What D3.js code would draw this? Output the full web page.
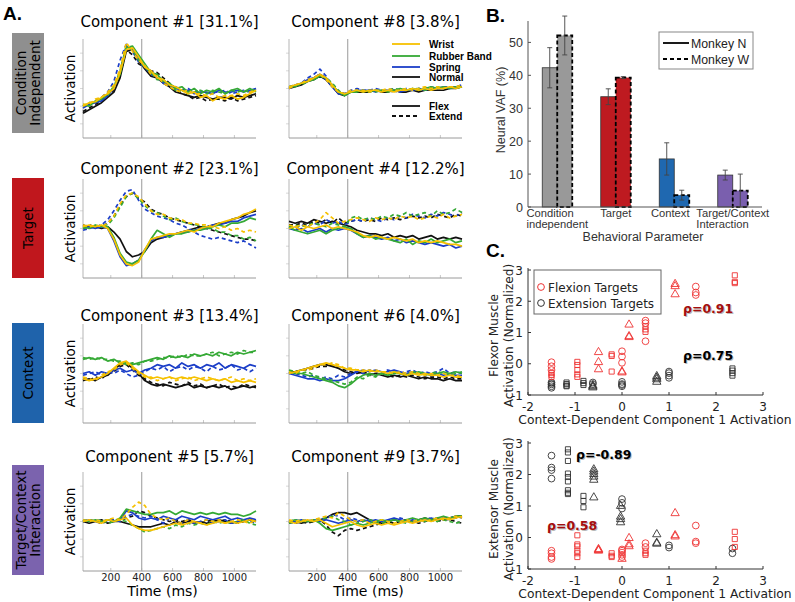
<!DOCTYPE html>
<html><head><meta charset="utf-8">
<script src="https://cdn.jsdelivr.net/npm/d3@7"></script>
<style>body{margin:0;background:#fff}svg{display:block}</style>
</head><body>
<svg id="c" width="795" height="602"></svg>
<script>
// ---------- Panel A data ----------
const timesMs = d3.range(20, 1141, 40);
const conditionNames = ["Wrist", "Rubber Band", "Spring", "Normal"];
const conditionColors = ["#f6c100", "#35a935", "#1b3ec8", "#111111"];
const directionNames = ["Flex", "Extend"];
// series order in each component: WristFlex, WristExt, RubberFlex, RubberExt, SpringFlex, SpringExt, NormalFlex, NormalExt
const comp1 = [
 [-1.0,-0.8,-0.75,-0.5,-0.3,0.0,0.9,2.2,2.3,1.8,1.2,1.0,0.6,0.5,0.2,0.1,-0.1,-0.3,-0.2,-0.5,-0.4,-0.7,-0.5,-0.6,-0.4,-0.6,-0.5,-0.3,-0.1],
 [-0.9,-0.9,-0.6,-0.5,-0.2,0.2,1.1,2.6,2.1,1.6,1.3,0.8,0.7,0.3,0.1,-0.1,-0.2,-0.1,-0.3,-0.3,-0.4,-0.3,-0.5,-0.4,-0.4,-0.3,-0.4,-0.2,-0.1],
 [-0.9,-1.0,-0.7,-0.6,-0.3,0.1,0.8,2.3,2.4,1.9,1.4,0.9,0.8,0.4,0.3,0.0,0.1,-0.2,0.0,-0.3,-0.1,-0.2,0.0,-0.3,-0.1,0.0,-0.2,0.0,-0.2],
 [-1.0,-0.8,-0.8,-0.5,-0.4,0.1,1.0,2.4,2.2,1.6,1.2,0.9,0.5,0.5,0.2,-0.1,-0.1,-0.3,-0.2,-0.1,-0.3,-0.1,-0.2,-0.3,-0.1,-0.2,-0.1,-0.2,0.0],
 [-1.1,-0.9,-0.8,-0.7,-0.4,0.0,0.9,2.4,2.2,1.7,1.2,0.9,0.6,0.4,0.2,0.0,-0.1,-0.1,-0.3,-0.2,-0.2,-0.3,-0.1,-0.2,-0.2,-0.1,-0.2,-0.1,0.0],
 [-1.0,-0.9,-0.7,-0.5,-0.2,0.4,1.6,2.5,2.1,1.5,1.2,0.8,0.6,0.3,0.2,0.1,-0.1,0.0,-0.2,-0.1,-0.3,-0.2,-0.2,-0.1,-0.3,-0.2,-0.1,-0.2,0.0],
 [-1.4,-1.2,-1.0,-0.8,-0.5,-0.2,0.6,2.1,2.2,1.6,1.1,0.7,0.6,0.3,0.1,-0.2,-0.3,-0.4,-0.5,-0.4,-0.5,-0.6,-0.5,-0.5,-0.6,-0.4,-0.5,-0.4,-0.3],
 [-1.3,-1.1,-0.9,-0.7,-0.4,-0.1,0.8,2.2,1.9,1.4,1.2,1.0,0.9,0.6,0.3,0.0,-0.3,-0.4,-0.6,-0.5,-0.7,-0.6,-0.6,-0.7,-0.5,-0.7,-0.6,-0.5,-0.4]];
const comp8 = [
 [0.1,0.2,0.3,0.4,0.6,0.8,0.6,0.2,-0.2,-0.3,-0.2,-0.1,-0.2,-0.1,-0.1,-0.2,-0.1,-0.2,-0.1,-0.1,0.0,-0.1,0.0,-0.1,0.0,0.0,0.1,0.0,0.1],
 [0.0,0.2,0.3,0.5,0.6,0.8,0.5,0.1,-0.2,-0.3,-0.1,-0.1,-0.1,-0.2,-0.1,-0.1,0.0,-0.1,-0.1,0.0,-0.1,0.0,0.1,0.0,0.1,0.0,0.1,0.1,0.2],
 [0.1,0.1,0.3,0.4,0.5,0.7,0.6,0.2,-0.2,-0.4,-0.2,-0.2,-0.1,-0.2,-0.1,-0.1,-0.2,-0.1,0.0,-0.1,0.0,-0.1,0.0,0.1,0.0,0.1,0.0,0.1,0.1],
 [0.1,0.2,0.2,0.4,0.6,0.7,0.6,0.3,-0.1,-0.4,-0.2,-0.1,-0.2,-0.1,-0.2,-0.1,-0.1,0.0,-0.1,-0.1,0.0,0.0,-0.1,0.0,0.1,0.0,0.1,0.0,0.1],
 [0.0,0.2,0.3,0.5,0.6,0.8,0.5,0.1,-0.3,-0.3,-0.2,-0.1,-0.1,-0.1,-0.2,-0.1,-0.1,-0.1,-0.2,-0.1,-0.1,0.0,-0.1,0.0,0.0,0.1,0.0,0.1,0.1],
 [0.1,0.2,0.3,0.6,0.8,1.1,0.7,0.2,-0.2,-0.3,-0.1,0.0,-0.1,-0.1,0.0,-0.1,-0.1,0.0,-0.1,0.0,-0.1,0.0,0.0,0.1,0.0,0.1,0.1,0.1,0.2],
 [0.0,0.1,0.2,0.4,0.5,0.7,0.5,0.1,-0.3,-0.4,-0.2,-0.2,-0.2,-0.2,-0.1,-0.2,-0.2,-0.1,-0.2,-0.2,-0.1,-0.2,-0.1,-0.1,-0.1,-0.1,0.0,0.0,0.1],
 [0.1,0.1,0.3,0.4,0.6,0.8,0.6,0.2,-0.2,-0.3,-0.2,-0.1,-0.2,-0.1,-0.1,-0.2,-0.1,-0.2,-0.1,-0.1,-0.1,-0.1,0.0,-0.1,0.0,0.0,0.0,0.1,0.1]];
const comp2 = [
 [0.1,0.2,0.1,0.2,0.0,-0.6,-1.5,-2.0,-2.1,-1.9,-1.2,-0.6,-0.5,-0.4,-0.3,-0.3,-0.2,-0.1,-0.2,0.0,0.1,0.1,0.3,0.4,0.5,0.6,0.8,0.9,1.1],
 [0.2,0.1,0.2,0.1,0.3,0.7,1.4,1.9,2.0,1.8,1.4,1.0,0.8,0.8,0.6,0.5,0.5,0.3,0.3,0.2,0.2,0.1,0.0,0.1,-0.1,0.0,-0.2,-0.1,-0.2],
 [0.1,0.0,0.2,0.1,0.1,-0.5,-1.4,-1.9,-2.0,-1.8,-1.3,-0.6,-0.1,-0.3,-0.5,-0.3,-0.3,-0.2,-0.1,-0.1,0.0,0.1,0.2,0.1,0.3,0.3,0.4,0.6,0.5],
 [0.0,0.1,0.1,0.2,0.2,0.6,1.2,1.8,2.0,1.7,1.3,1.0,0.9,0.7,0.5,0.6,0.4,0.3,0.2,0.2,0.0,0.0,-0.2,-0.2,-0.4,-0.4,-0.6,-0.5,-0.7],
 [0.0,0.1,0.0,0.1,0.0,-0.7,-1.6,-2.1,-2.0,-1.8,-1.2,-0.7,-0.5,-0.5,-0.4,-0.3,-0.2,-0.2,-0.1,0.0,0.0,0.2,0.2,0.3,0.4,0.4,0.6,0.7,0.8],
 [-0.1,0.0,0.1,0.2,0.5,1.0,1.6,2.1,2.2,1.6,1.1,0.9,0.7,0.6,0.5,0.3,0.2,0.0,-0.2,-0.4,-0.5,-0.6,-0.5,-0.6,-0.7,-0.8,-0.7,-0.9,-1.1],
 [0.2,0.1,0.1,0.0,0.1,-0.2,-0.6,-1.3,-1.6,-1.5,-1.3,-0.8,-0.6,-0.5,-0.4,-0.3,-0.2,-0.1,0.0,0.1,0.1,0.2,0.3,0.3,0.5,0.6,0.7,0.9,1.0],
 [0.1,0.2,0.1,0.1,0.3,0.7,1.3,1.8,2.0,1.7,1.5,1.1,0.9,0.8,0.6,0.5,0.4,0.3,0.2,0.1,0.0,-0.1,-0.2,-0.3,-0.4,-0.5,-0.6,-0.6,-0.7]];
const comp4 = [
 [0.0,0.1,-0.1,0.1,0.0,0.1,0.2,0.0,0.1,0.0,-0.1,-0.2,-0.4,-0.5,-0.4,-0.5,-0.6,-0.5,-0.6,-0.7,-0.6,-0.8,-0.7,-0.8,-0.7,-0.8,-0.9,-0.9,-1.0],
 [0.2,0.1,0.2,0.1,0.3,0.5,0.9,0.6,0.3,0.4,0.5,0.6,0.5,0.4,0.6,0.5,0.6,0.5,0.7,0.6,0.7,0.5,0.6,0.7,0.6,0.8,0.6,0.7,0.8],
 [0.1,-0.1,-0.2,-0.3,-0.2,-0.1,-0.3,-0.1,0.0,0.1,0.0,-0.3,-0.5,-0.4,-0.6,-0.5,-0.6,-0.7,-0.8,-0.6,-0.9,-0.7,-0.8,-0.6,-0.8,-0.7,-0.6,-0.8,-0.7],
 [0.1,0.2,0.1,0.2,0.3,0.2,0.1,0.3,0.2,0.1,0.6,0.7,0.5,0.6,0.5,0.7,0.6,0.8,0.7,0.9,0.7,0.8,0.9,0.7,1.0,0.8,0.9,1.1,0.9],
 [0.0,-0.1,0.0,-0.2,-0.1,0.0,-0.2,0.0,-0.1,0.0,-0.1,-0.3,-0.5,-0.4,-0.5,-0.6,-0.5,-0.7,-0.6,-0.8,-0.7,-0.8,-0.9,-0.8,-0.9,-1.0,-0.9,-1.1,-1.0],
 [0.1,0.0,0.2,0.1,0.3,0.2,0.5,0.3,0.4,0.2,0.4,0.5,0.4,0.6,0.5,0.4,0.6,0.5,0.7,0.6,0.8,0.7,0.6,0.8,0.7,0.9,0.8,0.7,0.9],
 [0.4,0.3,0.4,0.3,0.5,0.4,0.3,0.4,0.3,0.2,0.1,-0.1,-0.2,-0.3,-0.3,-0.4,-0.3,-0.5,-0.4,-0.5,-0.4,-0.6,-0.5,-0.4,-0.6,-0.5,-0.6,-0.5,-0.6],
 [0.2,0.2,0.3,0.2,0.4,0.3,0.5,0.3,0.6,0.3,0.4,0.5,0.4,0.5,0.4,0.6,0.5,0.6,0.5,0.6,0.7,0.6,0.7,0.6,0.8,0.7,0.6,0.8,0.7]];
const comp3 = [
 [-0.3,-0.4,-0.3,-0.2,0.0,0.3,0.6,0.7,0.4,0.1,-0.1,-0.3,-0.2,-0.3,-0.2,-0.3,-0.2,-0.3,-0.2,-0.3,-0.4,-0.3,-0.4,-0.3,-0.5,-0.4,-0.5,-0.4,-0.5],
 [-0.2,-0.3,-0.4,-0.1,0.1,0.2,0.5,0.6,0.3,0.0,-0.2,-0.2,-0.4,-0.3,-0.2,-0.4,-0.3,-0.2,-0.4,-0.3,-0.2,-0.3,-0.4,-0.3,-0.2,-0.4,-0.3,-0.4,-0.3],
 [0.8,0.9,0.8,0.9,0.7,0.8,0.6,0.6,0.5,0.6,0.7,0.8,0.9,0.8,1.0,0.9,1.0,0.9,1.1,1.0,1.1,1.0,1.2,1.1,1.0,1.2,1.1,1.2,1.3],
 [0.9,0.8,0.9,0.8,0.8,0.7,0.7,0.5,0.6,0.5,0.7,0.7,0.8,0.9,0.9,1.0,0.9,1.1,1.0,1.0,1.1,1.2,1.0,1.1,1.2,1.1,1.3,1.2,1.2],
 [0.0,0.1,-0.1,0.1,0.0,0.2,0.3,0.1,0.2,0.0,0.2,0.3,0.5,0.4,0.5,0.3,0.6,0.4,0.5,0.3,0.5,0.4,0.6,0.3,0.5,0.4,0.3,0.5,0.4],
 [-0.1,0.0,0.1,-0.1,0.1,0.0,0.2,0.0,-0.2,-0.1,0.1,0.3,0.2,0.4,0.1,0.3,0.4,0.2,0.4,0.3,0.1,0.4,0.2,0.3,0.5,0.2,0.3,0.1,0.3],
 [-0.4,-0.3,-0.4,-0.2,-0.1,0.2,0.5,0.6,0.3,0.0,-0.4,-0.6,-0.7,-0.6,-0.7,-0.8,-0.7,-0.6,-0.8,-0.7,-0.8,-0.7,-0.8,-0.7,-0.9,-0.8,-0.7,-0.8,-0.7],
 [-0.3,-0.4,-0.2,-0.3,0.0,0.1,0.4,0.5,0.2,-0.1,-0.3,-0.5,-0.6,-0.7,-0.5,-0.6,-0.7,-0.5,-0.7,-0.6,-0.8,-0.7,-0.6,-0.8,-0.7,-0.8,-0.6,-0.7,-0.8]];
const comp6 = [
 [0.0,0.1,0.2,0.3,0.4,0.5,0.6,0.5,0.4,0.3,0.2,0.2,0.1,0.2,0.1,0.1,0.0,0.1,0.0,-0.1,0.0,-0.1,0.0,-0.1,-0.1,-0.2,-0.1,-0.2,-0.2],
 [0.1,0.0,0.2,0.2,0.3,0.5,0.5,0.6,0.5,0.3,0.3,0.2,0.2,0.1,0.2,0.1,0.1,0.0,0.1,0.0,0.1,0.0,-0.1,0.0,-0.1,0.0,-0.1,-0.1,-0.2],
 [0.1,0.0,0.0,-0.1,-0.2,-0.3,-0.4,-0.5,-0.7,-0.8,-0.6,-0.3,-0.1,0.0,-0.1,0.0,-0.1,0.0,0.0,-0.1,0.0,0.1,0.0,-0.1,0.0,0.1,0.0,0.1,0.0],
 [0.2,0.1,0.0,0.1,-0.1,-0.2,-0.3,-0.4,-0.5,-0.6,-0.5,-0.2,-0.3,-0.1,-0.2,0.0,-0.1,0.1,0.0,-0.1,0.1,0.0,-0.1,0.0,0.1,0.0,-0.1,0.0,0.1],
 [0.0,-0.1,-0.2,-0.3,-0.3,-0.4,-0.3,-0.4,-0.4,-0.3,-0.1,0.1,0.2,0.1,0.2,0.1,0.1,0.2,0.1,0.0,0.1,0.0,0.0,-0.1,0.0,-0.1,0.0,-0.1,-0.1],
 [0.1,0.0,-0.1,-0.2,-0.1,-0.3,-0.2,-0.3,-0.1,-0.2,0.0,0.1,0.0,0.2,0.1,0.0,0.2,0.1,0.0,0.1,0.2,0.0,0.1,0.0,0.1,0.3,0.0,0.1,0.0],
 [0.1,0.1,0.2,0.3,0.4,0.5,0.5,0.4,0.3,0.1,0.0,0.1,0.0,-0.1,0.0,-0.1,-0.2,-0.1,-0.2,-0.1,-0.2,-0.3,-0.2,-0.3,-0.3,-0.4,-0.3,-0.4,-0.4],
 [0.0,0.1,0.2,0.2,0.3,0.4,0.4,0.5,0.3,0.2,0.1,0.0,0.1,0.0,-0.1,0.0,-0.1,-0.2,-0.1,-0.2,-0.1,-0.2,-0.3,-0.2,-0.2,-0.3,-0.2,-0.3,-0.3]];
const comp5 = [
 [0.0,0.1,0.0,-0.1,0.1,0.0,0.1,0.2,-0.2,-0.4,-0.5,-0.5,-0.4,-0.3,-0.2,-0.1,-0.2,-0.1,0.0,-0.1,-0.2,-0.1,0.0,-0.1,0.0,-0.1,0.0,0.1,0.0],
 [0.1,0.0,0.1,0.0,0.1,0.2,0.1,0.4,0.8,1.1,0.9,0.4,0.2,0.1,0.2,0.0,-0.1,0.1,0.0,-0.1,0.1,0.0,0.1,-0.1,0.0,0.1,0.0,-0.1,0.1],
 [0.1,0.0,0.1,0.0,0.1,0.0,0.2,0.7,0.6,0.5,0.4,0.4,0.5,0.5,0.6,0.4,0.6,0.5,0.4,0.5,0.4,0.5,0.4,0.5,0.4,0.4,0.3,0.4,0.6],
 [0.0,0.1,0.0,0.1,-0.1,0.0,0.1,0.0,-0.2,-0.4,-0.6,-0.5,-0.4,-0.3,-0.4,-0.2,-0.3,-0.1,-0.2,-0.1,-0.2,0.0,-0.1,0.0,-0.1,0.0,0.1,-0.1,-0.2],
 [0.0,0.1,0.0,0.0,0.1,0.0,0.1,0.6,0.5,0.2,0.1,0.2,0.1,0.3,0.2,0.1,0.3,0.2,0.1,0.3,0.2,0.1,0.2,0.3,0.1,0.2,0.1,0.2,0.1],
 [0.1,0.0,0.1,0.0,0.0,0.1,0.0,0.3,0.4,0.3,0.2,0.3,0.1,-0.1,0.2,0.0,-0.1,0.1,-0.1,0.0,0.1,-0.1,0.0,0.1,-0.1,0.0,0.1,0.0,-0.1],
 [0.0,-0.1,0.0,0.1,-0.1,0.0,0.0,-0.1,-0.2,-0.3,-0.3,-0.3,-0.2,-0.1,-0.2,0.0,-0.1,0.0,-0.1,0.0,-0.1,0.0,0.1,0.0,-0.1,0.0,0.0,0.1,0.0],
 [0.0,0.1,0.0,-0.1,0.0,0.1,0.0,0.2,0.3,0.6,0.5,0.3,0.2,0.1,0.0,0.1,0.0,0.1,0.0,-0.1,0.0,0.1,0.0,0.1,0.0,-0.1,0.0,0.1,0.0]];
const comp9 = [
 [0.0,-0.1,0.0,0.1,0.0,0.1,-0.1,-0.3,-0.2,-0.1,0.0,-0.2,-0.3,-0.2,-0.1,-0.2,-0.1,-0.2,-0.1,0.0,-0.1,0.0,0.1,0.0,0.1,0.2,0.1,0.2,0.3],
 [0.1,0.0,0.1,0.0,0.1,0.2,0.3,0.2,0.5,0.3,0.1,0.0,0.1,-0.1,0.0,0.1,0.0,-0.1,0.0,0.1,0.0,0.1,0.0,0.1,0.2,0.1,0.2,0.3,0.2],
 [0.0,0.1,0.0,0.0,0.1,-0.1,-0.4,-0.5,-0.4,-0.3,-0.2,-0.1,-0.2,-0.1,0.0,0.1,0.0,0.1,0.0,0.1,0.2,0.1,0.2,0.1,0.2,0.3,0.2,0.3,0.3],
 [-0.1,0.0,0.1,0.0,0.0,0.1,0.2,0.3,0.1,0.0,-0.2,-0.1,0.0,0.1,0.0,-0.1,0.0,0.1,0.0,-0.1,0.0,0.1,0.0,0.1,0.0,0.1,0.0,-0.1,0.0],
 [0.0,0.0,0.1,0.0,0.1,0.0,0.1,0.0,-0.1,0.0,0.1,0.0,0.1,0.0,0.1,0.0,0.1,0.2,0.1,0.0,0.1,0.0,0.1,0.2,0.1,0.2,0.2,0.3,0.2],
 [0.0,0.1,0.0,0.1,0.0,0.2,0.1,0.4,0.3,0.1,0.2,0.1,0.0,0.1,-0.1,0.1,0.0,0.1,0.2,0.1,0.0,0.1,0.1,0.2,0.1,0.2,0.1,0.2,0.3],
 [-0.1,0.0,-0.1,0.0,0.0,0.1,0.2,0.4,0.5,0.5,0.4,0.5,0.3,0.1,0.0,-0.1,0.0,0.1,0.0,0.1,0.0,0.1,0.2,0.1,0.2,0.1,0.2,0.3,0.3],
 [0.0,-0.1,0.0,-0.1,0.0,0.1,-0.2,-0.6,-0.8,-0.5,-0.4,-0.5,-0.4,-0.3,-0.2,-0.1,0.0,-0.1,0.0,0.1,0.0,-0.1,0.0,0.1,0.0,0.1,0.1,0.0,-0.1]];
const componentTitles = [["Component #1 [31.1%]","Component #8 [3.8%]"],["Component #2 [23.1%]","Component #4 [12.2%]"],
  ["Component #3 [13.4%]","Component #6 [4.0%]"],["Component #5 [5.7%]","Component #9 [3.7%]"]];
const rowLabels = [["Condition","Independent"],["Target"],["Context"],["Target/Context","Interaction"]];
const rowColors = ["#8f8f8f","#c0171d","#1f63ab","#7b63ae"];
const timeTicks = [200,400,600,800,1000];

// ---------- Panel B data ----------
const vafCategories = [["Condition","independent"],["Target"],["Context"],["Target/Context","Interaction"]];
const vafMonkeyN = [42.3, 33.5, 14.6, 9.7];
const vafMonkeyW = [52.1, 39.3, 3.6, 5.0];
const errMonkeyN = [6.1, 2.4, 4.9, 1.5];
const errMonkeyW = [5.9, 0.3, 1.5, 5.0];
const vafColors = ["#999999","#be1a20","#1f68b0","#7a5fae"];
const vafTicks = [0,10,20,30,40,50];

// ---------- Panel C data: [x, marker, [y values]] ----------
const flexorFlexion = [[-1.5,"o",[0.05,-0.08,-0.2]],[-1.5,"s",[-0.3,-0.36,-0.42]],[-0.95,"s",[0.06,-0.04,-0.2,-0.34,-0.42]],
 [-0.5,"t",[0.37,0.05,-0.18]],[-0.22,"s",[0.3,0.25,-0.25]],[0.0,"o",[0.4,0.23,0.03]],[0.0,"t",[-0.25,-0.28]],
 [0.15,"t",[1.25,0.88,0.85]],[0.5,"o",[1.38,1.3,0.72]],[0.5,"s",[1.2,1.1,1.02]],[1.13,"t",[2.55,2.48,2.22]],
 [1.57,"o",[2.47,2.28,2.2]],[2.4,"s",[2.83,2.62,2.58]]];
const flexorExtension = [[-1.5,"o",[-0.6,-0.66,-0.72,-0.77]],[-1.5,"s",[-0.63]],[-1.18,"s",[-0.6,-0.65,-0.7,-0.72]],
 [-0.82,"s",[-0.55,-0.62,-0.68]],[-0.62,"o",[-0.6,-0.65]],[-0.62,"t",[-0.7,-0.73,-0.76]],[0.0,"o",[-0.58,-0.65,-0.68,-0.72]],
 [0.74,"t",[-0.4,-0.45,-0.5,-0.58]],[1.0,"o",[-0.25,-0.3,-0.38,-0.45]],[2.35,"s",[-0.15,-0.22,-0.3,-0.38]]];
const extensorFlexion = [[-1.5,"o",[-0.42,-0.5,-0.62,-0.68]],[-0.95,"s",[0.07,-0.22,-0.28,-0.42,-0.5,-0.62]],
 [-0.5,"t",[-0.37,-0.4,-0.42]],[-0.22,"s",[-0.5,-0.58,-0.62]],[0.0,"o",[-0.38,-0.42,-0.48,-0.55,-0.62]],[0.0,"t",[-0.68]],
 [0.15,"t",[-0.02,-0.22,-0.28]],[0.5,"o",[-0.18,-0.3]],[0.5,"s",[-0.42,-0.5,-0.55]],[1.13,"t",[0.77,0.07,0.03]],
 [1.57,"o",[0.38,-0.13,-0.18]],[2.4,"s",[0.18,-0.05,-0.3]]];
const extensorExtension = [[-1.5,"o",[2.6,2.22,2.14,1.87]],[-1.15,"s",[2.8,2.7,2.43,2.03,1.92,1.78,1.5,1.42,1.38]],
 [-0.82,"s",[1.32,1.16,0.96]],[-0.6,"t",[2.16,2.09,2.01,1.93,1.83,1.27]],[0.0,"o",[1.22,1.1,0.92]],
 [-0.03,"t",[1.0,0.66,0.58,0.48]],[0.74,"t",[0.1,-0.17,-0.2]],[1.0,"o",[-0.25,-0.32]],[2.35,"o",[-0.35,-0.5]]];
const corrLabels = [["ρ=0.91","ρ=0.75"],["ρ=-0.89","ρ=0.58"]];
const scatterXTicks = [-2,-1,0,1,2,3];
const scatterYTicks = [-1,0,1,2,3];

// ================= drawing =================
const svg = d3.select("#c");
const FC = '"DejaVu Sans",Verdana,sans-serif';
const FA = '"Liberation Sans",Arial,sans-serif';

// panel letters
[["A.",3,20],["B.",486,22],["C.",486,257]].forEach(([t,x,y]) =>
  svg.append("text").attr("x",x).attr("y",y).text(t).attr("font-family",FA)
    .attr("font-weight","900").attr("font-size",19).attr("fill","#000"));

// ---------- Panel A ----------
const colX = [83, 289], plotW = 173, plotH = 99;
const rowTop = [39, 179, 324, 472];
const titleBase = [27, 174, 321, 462];
const boxY = [[33,133],[178,278],[323,423],[465,575]];
const xT = d3.scaleLinear().domain([20,1140]).range([0,plotW]);
const yA = d3.scaleLinear().domain([-2.8,2.8]).range([plotH,0]);
const comps = [[comp1,comp8],[comp2,comp4],[comp3,comp6],[comp5,comp9]];
const lineGen = d3.line().x((d,i)=>xT(timesMs[i])).y(d=>yA(d));

rowLabels.forEach((lab,r) => {
  const [y0,y1] = boxY[r];
  svg.append("rect").attr("x",12).attr("y",y0).attr("width",32).attr("height",y1-y0).attr("fill",rowColors[r]);
  const cy = (y0+y1)/2, n = lab.length;
  lab.forEach((s,k) => {
    const cx = 28 + (k-(n-1)/2)*14 + 5;
    svg.append("text").attr("transform",`translate(${cx},${cy}) rotate(-90)`).attr("text-anchor","middle")
      .attr("font-family",FC).attr("font-size",13.5).attr("fill","#000").text(s);
  });
});

comps.forEach((row,r) => row.forEach((series,c) => {
  const g = svg.append("g").attr("transform",`translate(${colX[c]},${rowTop[r]})`);
  g.append("text").attr("x",plotW/2).attr("y",titleBase[r]-rowTop[r]).attr("text-anchor","middle")
    .attr("font-family",FC).attr("font-size",15).attr("fill","#000").text(componentTitles[r][c]);
  [-2,-1,0,1,2].forEach(v => g.append("line").attr("x1",-3).attr("x2",0).attr("y1",yA(v)).attr("y2",yA(v)).attr("stroke","#d8d8d8"));
  timeTicks.forEach(v => g.append("line").attr("x1",xT(v)).attr("x2",xT(v)).attr("y1",plotH).attr("y2",plotH-3).attr("stroke","#c8c8c8"));
  g.append("line").attr("x1",0).attr("x2",0).attr("y1",0).attr("y2",plotH).attr("stroke","#b5b5b5");
  g.append("line").attr("x1",0).attr("x2",plotW).attr("y1",plotH).attr("y2",plotH).attr("stroke","#9a9a9a");
  g.append("line").attr("x1",xT(400)).attr("x2",xT(400)).attr("y1",0).attr("y2",plotH).attr("stroke","#aaaaaa").attr("stroke-width",1.2);
  [3,2,1,0].forEach(ci => [0,1].forEach(di => {
    g.append("path").attr("d",lineGen(series[ci*2+di])).attr("fill","none")
      .attr("stroke",conditionColors[ci]).attr("stroke-width",1.7)
      .attr("stroke-dasharray",di===1?"4,3":null).attr("stroke-linejoin","round");
  }));
  if (c===0) g.append("text").attr("transform",`translate(-8,${plotH/2}) rotate(-90)`).attr("text-anchor","middle")
      .attr("font-family",FC).attr("font-size",13.5).attr("fill","#000").text("Activation");
  if (r===3) {
    timeTicks.forEach(v => g.append("text").attr("x",xT(v)).attr("y",plotH+10).attr("text-anchor","middle")
      .attr("font-family",FC).attr("font-size",10).attr("fill","#222").text(v));
    g.append("text").attr("x",plotW/2-7).attr("y",plotH+25).attr("text-anchor","middle")
      .attr("font-family",FC).attr("font-size",14).attr("fill","#000").text("Time (ms)");
  }
}));

// legend inside component #8
const legA = svg.append("g");
const legRowsY = [44,56,67,77];
conditionNames.forEach((nm,i) => {
  legA.append("line").attr("x1",392).attr("x2",420).attr("y1",legRowsY[i]).attr("y2",legRowsY[i]).attr("stroke",conditionColors[i]).attr("stroke-width",1.8);
  legA.append("text").attr("x",429).attr("y",legRowsY[i]+3.5).attr("font-family",FA).attr("font-weight","bold").attr("font-size",10).text(nm);
});
directionNames.forEach((nm,i) => {
  const yy = [106,116][i];
  legA.append("line").attr("x1",392).attr("x2",420).attr("y1",yy).attr("y2",yy).attr("stroke","#111").attr("stroke-width",1.8).attr("stroke-dasharray",i?"4,3":null);
  legA.append("text").attr("x",429).attr("y",yy+3.5).attr("font-family",FA).attr("font-weight","bold").attr("font-size",10).text(nm);
});

// ---------- Panel B ----------
const bxL = 528, bxR = 762, byB = 207;
const yB = d3.scaleLinear().domain([0,56.5]).range([byB,21]);
const xB = d3.scaleBand().domain(d3.range(vafCategories.length)).range([bxL,bxR]).paddingInner(0.487).paddingOuter(0.2435);
const xSub = d3.scaleBand().domain(["N","W"]).range([0,xB.bandwidth()]);
const gB = svg.append("g");
vafMonkeyN.forEach((v,i) => {
  const x0 = xB(i);
  gB.append("rect").attr("x",x0+xSub("N")).attr("y",yB(v)).attr("width",xSub.bandwidth()).attr("height",byB-yB(v))
    .attr("fill",vafColors[i]).attr("stroke","#333").attr("stroke-width",0.8);
  const w = vafMonkeyW[i];
  gB.append("rect").attr("x",x0+xSub("W")).attr("y",yB(w)).attr("width",xSub.bandwidth()).attr("height",byB-yB(w))
    .attr("fill",vafColors[i]).attr("stroke","#000").attr("stroke-width",1.8).attr("stroke-dasharray","4,2.5");
  [["N",v,errMonkeyN[i]],["W",w,errMonkeyW[i]]].forEach(([k,val,e]) => {
    const cx = x0+xSub(k)+xSub.bandwidth()/2;
    const lo = Math.max(0,val-e);
    gB.append("line").attr("x1",cx).attr("x2",cx).attr("y1",yB(lo)).attr("y2",yB(val+e)).attr("stroke","#444").attr("stroke-width",0.9);
    [lo,val+e].forEach(q => gB.append("line").attr("x1",cx-2.5).attr("x2",cx+2.5).attr("y1",yB(q)).attr("y2",yB(q)).attr("stroke","#444").attr("stroke-width",0.9));
  });
});
gB.append("line").attr("x1",bxL).attr("x2",bxL).attr("y1",21).attr("y2",byB).attr("stroke","#555");
gB.append("line").attr("x1",bxL).attr("x2",bxR).attr("y1",byB).attr("y2",byB).attr("stroke","#555");
vafTicks.forEach(v => {
  gB.append("line").attr("x1",bxL).attr("x2",bxL+3).attr("y1",yB(v)).attr("y2",yB(v)).attr("stroke","#555");
  gB.append("text").attr("x",bxL-5).attr("y",yB(v)+4.5).attr("text-anchor","end").attr("font-family",FA).attr("font-size",12.5).attr("fill","#333").text(v);
});
vafCategories.forEach((lines,i) => {
  const cx = xB(i)+xB.bandwidth()/2 - (lines.length===1 && i===2 ? 4 : 0);
  lines.forEach((s,k) => {
    const t = gB.append("text").attr("font-family",FA).attr("font-size",11.2).attr("fill","#333")
      .attr("y",217+k*11).text(s);
    t.attr("class","vt"+i);
  });
  const nodes = gB.selectAll(".vt"+i);
  if (lines.length===1) nodes.attr("x",cx).attr("text-anchor","middle");
  else {
    const w = d3.max(nodes.nodes().map(n => n.getComputedTextLength()));
    nodes.attr("x",cx-w/2);
  }
});
gB.append("text").attr("x",643).attr("y",241).attr("text-anchor","middle").attr("font-family",FA).attr("font-size",12.5).attr("fill","#333").text("Behavioral Parameter");
gB.append("text").attr("transform","translate(505,110) rotate(-90)").attr("text-anchor","middle").attr("font-family",FA).attr("font-size",12.5).attr("fill","#333").text("Neural VAF (%)");
gB.append("rect").attr("x",659).attr("y",32).attr("width",94).attr("height",37).attr("fill","#fff").attr("stroke","#888");
[["Monkey N",null,43],["Monkey W","4,3",59]].forEach(([nm,da,yy]) => {
  gB.append("line").attr("x1",663).attr("x2",689).attr("y1",yy).attr("y2",yy).attr("stroke","#000").attr("stroke-width",1.8).attr("stroke-dasharray",da);
  gB.append("text").attr("x",691).attr("y",yy+4.5).attr("font-family",FA).attr("font-size",12.3).attr("fill","#222").text(nm);
});

// ---------- Panel C ----------
const xC = d3.scaleLinear().domain([-2,3]).range([528,763]);
const scatterTops = [270, 443], scatterBots = [395, 569];
const redC = "#ee3333", blackC = "#333333";
const symArea = {o:36, s:26, t:30};
const symType = {o:d3.symbolCircle, s:d3.symbolSquare, t:d3.symbolTriangle};
const panelsC = [[flexorFlexion, flexorExtension], [extensorFlexion, extensorExtension]];
const yLabelC = [["Flexor Muscle","Activation (Normalized)"],["Extensor Muscle","Activation (Normalized)"]];
const corrPos = [[[683,313,"#a50e0e"],[683,360,"#000"]],[[576,459,"#000"],[547,530,"#a50e0e"]]];
panelsC.forEach((grp,p) => {
  const yC = d3.scaleLinear().domain([-1,3]).range([scatterBots[p],scatterTops[p]]);
  const g = svg.append("g");
  g.append("line").attr("x1",528).attr("x2",528).attr("y1",scatterTops[p]-2).attr("y2",scatterBots[p]).attr("stroke","#333");
  g.append("line").attr("x1",528).attr("x2",763).attr("y1",scatterBots[p]).attr("y2",scatterBots[p]).attr("stroke","#333");
  scatterXTicks.forEach(v => {
    g.append("line").attr("x1",xC(v)).attr("x2",xC(v)).attr("y1",scatterBots[p]).attr("y2",scatterBots[p]-3).attr("stroke","#333");
    g.append("text").attr("x",xC(v)).attr("y",scatterBots[p]+16).attr("text-anchor","middle").attr("font-family",FC).attr("font-size",12).attr("fill","#222").text(v);
  });
  scatterYTicks.forEach(v => {
    g.append("line").attr("x1",528).attr("x2",531).attr("y1",yC(v)).attr("y2",yC(v)).attr("stroke","#333");
    g.append("text").attr("x",523).attr("y",yC(v)+4.5).attr("text-anchor","end").attr("font-family",FC).attr("font-size",12).attr("fill","#222").text(v);
  });
  [[grp[1],blackC],[grp[0],redC]].forEach(([data,col]) => {
    data.forEach(([xv,mk,ys]) => ys.forEach(yv => {
      g.append("path").attr("d",d3.symbol().type(symType[mk]).size(symArea[mk])())
        .attr("transform",`translate(${xC(xv)},${yC(yv)})`).attr("fill","none").attr("stroke",col).attr("stroke-width",0.9);
    }));
  });
  const cy = (scatterTops[p]+scatterBots[p])/2 + 3;
  yLabelC[p].forEach((s,k) => g.append("text").attr("transform",`translate(${498+k*15},${cy}) rotate(-90)`).attr("text-anchor","middle")
    .attr("font-family",FC).attr("font-size",12.2).attr("fill","#222").text(s));
  g.append("text").attr("x",655).attr("y",scatterBots[p]+29).attr("text-anchor","middle").attr("font-family",FC).attr("font-size",12.3).attr("fill","#222")
    .text("Context-Dependent Component 1 Activation");
  corrLabels[p].forEach((s,k) => {
    const [px,py,col] = corrPos[p][k];
    g.append("text").attr("x",px+1).attr("y",py+1).attr("font-family",FC).attr("font-weight","bold").attr("font-size",12.5).attr("fill","#b8b8b8").text(s);
    g.append("text").attr("x",px).attr("y",py).attr("font-family",FC).attr("font-weight","bold").attr("font-size",12.5).attr("fill",col).text(s);
  });
});
// scatter legend
const legC = svg.append("g");
legC.append("rect").attr("x",534).attr("y",270).attr("width",127).attr("height",44).attr("fill","#fff").attr("stroke","#666");
[["Flexion Targets",redC,287],["Extension Targets",blackC,303]].forEach(([nm,col,yy]) => {
  legC.append("path").attr("d",d3.symbol().type(d3.symbolCircle).size(36)()).attr("transform",`translate(541,${yy})`).attr("fill","none").attr("stroke",col);
  legC.append("text").attr("x",548).attr("y",yy+4.5).attr("font-family",FC).attr("font-size",12).attr("fill","#222").text(nm);
});
</script>
</body></html>
